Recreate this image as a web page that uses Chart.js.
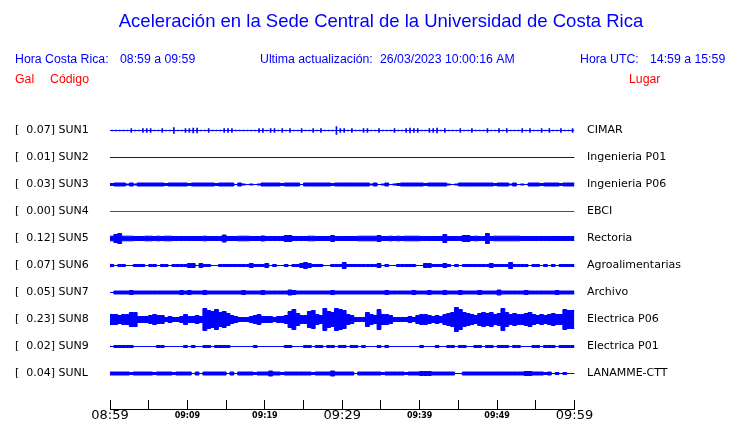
<!DOCTYPE html>
<html>
<head>
<meta charset="utf-8">
<script src="https://cdn.jsdelivr.net/npm/chart.js@4/dist/chart.umd.min.js"></script>
<style>
html,body{margin:0;padding:0;background:#fff;}
#wrap{width:740px;height:423px;position:relative;}
</style>
</head>
<body>
<div id="wrap"><canvas id="c" width="740" height="423"></canvas></div>
<script>
// ---------- data ----------
const stationCodes = ['SUN1','SUN2','SUN3','SUN4','SUN5','SUN6','SUN7','SUN8','SUN9','SUNL'];
const stationPlaces = ['CIMAR','Ingenieria P01','Ingenieria P06','EBCI','Rectoria','Agroalimentarias','Archivo','Electrica P06','Electrica P01','LANAMME-CTT'];
const peakGal = [0.07, 0.01, 0.03, 0.00, 0.12, 0.07, 0.05, 0.23, 0.02, 0.04];
const timeTickLabels = ['08:59','','09:09','','09:19','','09:29','','09:39','','09:49','','09:59'];
const majorTimeLabels = ['08:59','09:29','09:59'];

// envelope half-amplitude of each trace (relative units), successive equal time slices over the hour
const envSUN1 = [0,0,0,0,0,1.5,0,0,1.5,1.5, 1.5,0,0,1.5,0,0,2.5,0,0,1.5,
  1.5,2,2,0,0,1.5,0,0,0,1.5, 1.5,1.5,0,0,0,0,0,0,1.5,1.5,
  0,1.5,1.5,0,1.5,0,1.5,0,0,1.5, 0,0,1.5,0,1.5,0,0,0,3.5,1.5,
  1.5,0,1.5,0,0,1.5,1.5,0,0,1.5, 0,0,0,1.5,0,0,1.5,2,1.5,1.5,
  0,0,1.5,1.5,2,0,1.5,0,0,0, 1.5,0,0,1.5,0,0,0,1.5,0,0,
  1.5,0,1.5,0,0,0,1.5,0,1.5,0, 0,1.5,0,1.5,0,0,1.5,0,0,1.5];
const envSUN2 = [0,0,0,0,0,0];
const envSUN3 = [1.5,1,1.5,1.5,1.5,0.5,1.5,0.5,1.5,
  1.5,1.5,1.5,1.5,1.5,1.5,1,1.5,1.5,1.5, 1.5,1.5,1,1.5,1.5,1.5,1.5,1.5,1.5,1, 1.5,1.5,1.5,1.5,
  0,1.5,0.5,0,0.5,0,0.5,
  1.5,1.5,1.5,1.5,1.5,1,1.5,1.5,1.5,1.5, 0,
  1.5,1.5,1.5,1.5,1.5,1.5,1.5,1,1.5,1.5,1.5,1.5,1.5,1.5,1.5,1.5,1.5,
  0.5,1.5,0,0.5,1.5,0,0.5,1,
  1.5,1.5,1.5,1.5,1.5,1.5,1,1.5,1.5,1.5,1.5,1.5,
  0.5,0,0.5,
  1.5,1.5,1.5,1.5,1.5,1.5,1.5,1.5,1.5,1,1.5,1.5,1.5,
  0.5,1.5,0,0.5,0,
  1.5,1.5,1.5,1,1.5,1.5,1.5,1.5,1,1.5,1.5];
const envSUN4 = [0,0,0,0,0,0];
const envSUN5 = [2.3,2.3,4,5,2.3,2.3,2.3,2,2,2, 2.3,2.3,2,2.3,2,2.3,2.3,2,2,2,
  2,2,2,2,2,2.3,2,2,2,2, 3.5,2,2,2,2.3,2.3,2.3,2,2,2,
  2.5,2,2,2,2,2,3,3,2,2, 2,2,2.3,2.3,2,2,2,2,3,2,
  2,2,2,2,2,2.3,2.3,2.3,2.3,2.3, 3,2,2,2.3,2,2.3,2,2.3,2.3,2.3,
  2.3,2,2,2,2,2,2,4,2,2, 2,2,3,3,2,2.3,2,2,5,2,
  2.3,2.3,2.3,2.3,2.3,2.3,2.3,2,2,2, 2,2,2,2,2,2,2,2,2,2];
const envSUN6 = [2,1,0,1,1,0,0,1,1,1, 0,1,1,0,1,1,0,1,1,1,
  1,2,2,0,2,1,1,0,0,1, 1,1,1,1,1,1,1,2,1,1,
  1,2,0,1,0,0,1,0,1,1, 2,3,2,1,1,1,0,0,1,1,
  1,3,1,1,1,1,1,1,1,1, 2,0,1,0,0,1,1,1,1,1,
  0,0,2,2,1,1,1,2,1,0, 1,0,1,1,1,1,1,1,1,2,
  1,1,1,1,3,1,1,1,1,0, 1,1,0,1,0,1,0,1,1,1];
const envSUN7 = [0,0,1.5,1.5,1.5,1.5,2,1.5,1.5,1.5, 1.5,1.5,1.5,1.5,1.5,1.5,1.5,1.5,1.5,2,
  1.5,2,1.5,1.5,1.5,2,1.5,1.5,1.5,1.5, 1.5,1.5,1.5,1.5,1.5,2,1.5,1.5,1.5,1.5,
  2,1.5,1.5,1.5,1.5,1.5,1.5,2.5,2,1.5, 1.5,1.5,1.5,1.5,1.5,1.5,1.5,1.5,2,1.5,
  1.5,1.5,1.5,1.5,1.5,1.5,1.5,1.5,1.5,1.5, 1.5,1.5,2,1.5,1.5,1.5,1.5,1.5,1.5,2,
  1.5,1.5,1.5,2,1.5,1.5,1.5,2,1.5,1.5, 1.5,2,1.5,1.5,1.5,1.5,2,1.5,1.5,1.5,
  1.5,2.5,1.5,1.5,1.5,1.5,1.5,1.5,2,1.5, 1.5,1.5,1.5,1.5,1.5,1.5,2,1.5,1.5,1.5];
const envSUN8 = [6,5,5,4,5,5, 7,7, 3,3,3, 4,5,4,4, 2,3,2,2,3, 5,3,3,4, 3,
  11,9, 8,10,7,8,6, 4,3,2,2,2,3, 4,5,3, 3,3,2,3,3,4, 8,10,6, 4,4,8, 9,5,4,
  11,8, 7, 11,10,9, 5,4, 2,2,2, 7, 5,4, 10, 5,5,4, 2,2,2,2, 3,2,4, 5,5,4, 3,
  4,3,5, 6,7, 12,10, 7,6, 5,4, 6,7, 6,7,5, 6,11,7, 5,6,5, 5,6, 7,5,4, 5,4,5,
  6,5,5, 10,9];
const envSUN9 = [1,0,1,1,1,1,1,0,0,0, 0,0,0,1,1,0,0,0,0,0,
  1,0,1,0,0,1,1,0,1,1, 1,1,0,0,0,0,0,0,1,0,
  0,0,0,0,0,0,1,1,0,0, 0,1,1,0,1,1,0,1,1,0,
  1,1,0,1,1,0,1,0,0,0, 1,0,1,0,0,0,0,0,0,0,
  0,1,0,0,0,1,0,0,1,1, 0,1,1,0,0,1,1,0,1,1,
  0,1,1,1,0,1,1,0,0,0, 1,1,0,1,1,1,0,1,1,1];
const envSUNL = [1.5,1.5,1.5,1.5,1.5,1.5,1,1.5,1.5,1.5, 1.5,1.5,1,1.5,1.5,1.5,1.5,1,1.5,1.5,
  1.5,1.5,0,1.5,0,1.5,1.5,1.5,1.5,1.5, 1.5,0,1.5,0,1.5,1.5,1.5,1.5,1,1.5,
  1.5,1.5,2.5,1.5,1.5,1,1.5,1.5,1.5,1.5, 1.5,1.5,1.5,1,1.5,1.5,1.5,1.5,2.5,1.5,
  1.5,1.5,1.5,1.5,0,1.5,1.5,1.5,1.5,1.5, 1.5,1,1.5,1.5,1.5,1.5,1.5,1,1.5,1.5,
  1.5,2,2,2,1.5,1.5,1.5,1.5,1.5,1.5, 0,0,1.5,1.5,1.5,1.5,1.5,1.5,1.5,1.5,
  1.5,1.5,1.5,1.5,1.5,1.5,1.5,1.5,2,2, 1.5,1.5,1.5,1,1.5,0,1,0,1,0];
const envelopes = [envSUN1, envSUN2, envSUN3, envSUN4, envSUN5, envSUN6, envSUN7, envSUN8, envSUN9, envSUNL];
const traceStyles = ['spike','band','band','band','band','band','band','band','band','band'];
const traceColors = ['#0000ff','#0000ff','#0000ff','#e01010','#0000ff','#0000ff','#0000ff','#0000ff','#0000ff','#0000ff'];

// ---------- build datasets ----------
const HOUR = 60;          // minutes shown
const ROW_UNITS = 27;     // amplitude units per row spacing
const datasets = [];
envelopes.forEach((env, k) => {
  const n = env.length, dx = HOUR / n;
  const col = traceColors[k];
  if (traceStyles[k] === 'spike') {
    datasets.push({type: 'line', data: [{x: 0, y: k}, {x: HOUR, y: k}], borderColor: col, borderWidth: 1, pointRadius: 0, fill: false, yAxisID: 'yL'});
    datasets.push({type: 'bar', data: env.map((a, i) => ({x: (i + 0.5) * dx, y: [k - (a + 0.5) / ROW_UNITS, k + (a + 0.5) / ROW_UNITS]})),
      backgroundColor: col, borderWidth: 0, barThickness: 1, grouped: false, yAxisID: 'yL'});
    return;
  }
  const up = env.map((a, i) => ({x: i * dx, y: k - a / ROW_UNITS}));
  const lo = env.map((a, i) => ({x: i * dx, y: k + a / ROW_UNITS}));
  up.push({x: HOUR, y: k - env[n - 1] / ROW_UNITS});
  lo.push({x: HOUR, y: k + env[n - 1] / ROW_UNITS});
  datasets.push({type: 'line', data: up, borderColor: col, borderWidth: 1, backgroundColor: col, stepped: 'after', fill: false, pointRadius: 0, yAxisID: 'yL'});
  datasets.push({type: 'line', data: lo, borderColor: col, borderWidth: 1, backgroundColor: col, stepped: 'after', fill: '-1', pointRadius: 0, yAxisID: 'yL'});
});

const rowTicks = stationCodes.map((c, i) => i);
const yCommon = {
  type: 'linear', reverse: true, min: -30.5 / 27, max: (409 - 130.5) / 27,
  afterBuildTicks: s => { s.ticks = rowTicks.map(v => ({value: v})); },
  grid: {display: false, drawTicks: false}, border: {display: false}
};

const textPlugin = {
  id: 'headerText',
  afterDraw(chart) {
    const ctx = chart.ctx;
    ctx.save();
    ctx.textBaseline = 'middle';
    ctx.textAlign = 'center';
    ctx.fillStyle = '#0000ff';
    ctx.font = '18.5px "Liberation Sans", Arial, sans-serif';
    ctx.fillText('Aceleración en la Sede Central de la Universidad de Costa Rica', 381, 22);
    ctx.textAlign = 'left';
    ctx.font = '12.3px "Liberation Sans", Arial, sans-serif';
    ctx.fillText('Hora Costa Rica:', 15, 60);
    ctx.fillText('08:59 a 09:59', 120, 60);
    ctx.fillText('Ultima actualización:', 260, 60);
    ctx.fillText('26/03/2023 10:00:16 AM', 380, 60);
    ctx.fillText('Hora UTC:', 580, 60);
    ctx.fillText('14:59 a 15:59', 650, 60);
    ctx.fillStyle = '#ff0000';
    ctx.fillText('Gal', 15, 80);
    ctx.fillText('Código', 50, 80);
    ctx.fillText('Lugar', 629, 80);
    ctx.restore();
  }
};

const noPad = s => { s.paddingTop = 0; s.paddingBottom = 0; };

new Chart(document.getElementById('c'), {
  type: 'line',
  data: {datasets},
  plugins: [textPlugin],
  options: {
    responsive: false, animation: false, devicePixelRatio: 1,
    layout: {padding: {left: 15, right: 0, top: 100, bottom: 0}},
    plugins: {legend: {display: false}, tooltip: {enabled: false}},
    elements: {line: {tension: 0}},
    scales: {
      x: {
        type: 'linear', position: 'bottom', min: 0, max: HOUR, offset: false,
        afterBuildTicks: s => { s.ticks = timeTickLabels.map((l, i) => ({value: i * HOUR / (timeTickLabels.length - 1)})); },
        afterFit: s => { s.height = 14; },
        ticks: {
          autoSkip: false, maxRotation: 0, padding: 8, color: '#000',
          callback: (v, i) => timeTickLabels[i],
          font: ctx => {
            const lab = timeTickLabels[ctx.index];
            return majorTimeLabels.includes(lab)
              ? {family: '"DejaVu Sans"', size: 13, lineHeight: '16px'}
              : {family: '"DejaVu Sans"', size: 8, weight: 'bold', lineHeight: '16px'};
          }
        },
        grid: {offset: false, drawOnChartArea: false, drawTicks: true, tickLength: -9, color: '#000', lineWidth: 1},
        border: {display: true, color: '#000', width: 1}
      },
      yL: Object.assign({}, yCommon, {
        position: 'left',
        afterFit: s => { s.width = 95; noPad(s); },
        ticks: {crossAlign: 'far', padding: 0, color: '#000', font: {family: '"DejaVu Sans"', size: 11},
          callback: (v, i) => '[  ' + peakGal[i].toFixed(2) + '] ' + stationCodes[i]}
      }),
      yR: Object.assign({}, yCommon, {
        position: 'right',
        afterFit: s => { s.width = 165.5; noPad(s); },
        ticks: {crossAlign: 'near', padding: 12.5, color: '#000', font: {family: '"DejaVu Sans"', size: 11},
          callback: (v, i) => stationPlaces[i]}
      })
    }
  }
});
</script>
</body>
</html>
